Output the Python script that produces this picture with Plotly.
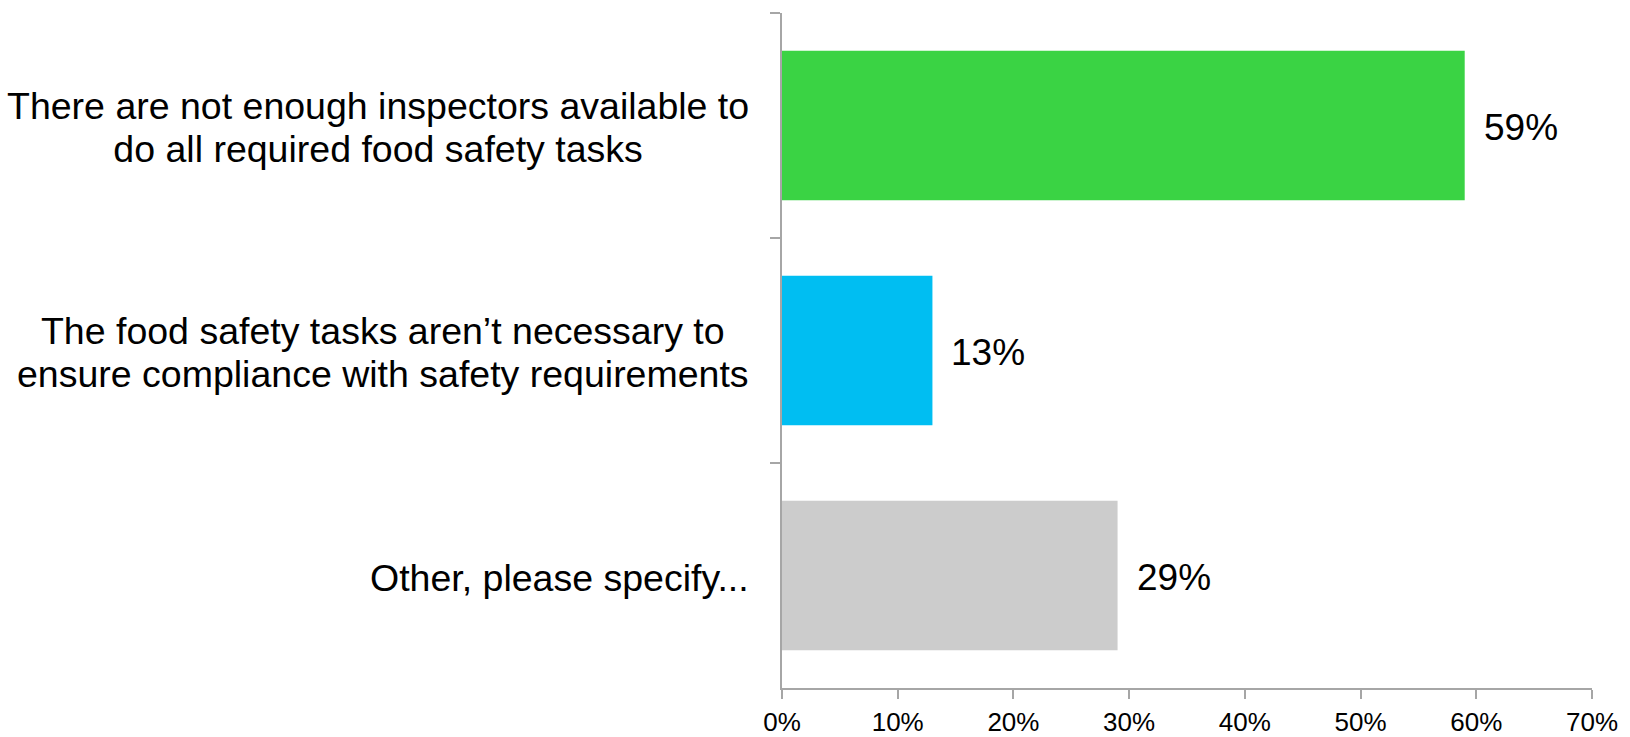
import plotly.graph_objects as go

# Survey responses: reasons food safety tasks go undone
categories = [
    "There are not enough inspectors available to<br>do all required food safety tasks",
    "The food safety tasks aren’t necessary to<br>ensure compliance with safety requirements",
    "Other, please specify...",
]
values = [59, 13, 29]
bar_colors = ["#3AD344", "#00BEF2", "#CCCCCC"]
x_tick_vals = [0, 10, 20, 30, 40, 50, 60, 70]
x_tick_text = ["0%", "10%", "20%", "30%", "40%", "50%", "60%", "70%"]

FONT = "Liberation Sans, Arial, sans-serif"
AXIS_COLOR = "#A6A6A6"

fig = go.Figure(
    go.Bar(
        x=values,
        y=categories,
        orientation="h",
        marker=dict(color=bar_colors, line=dict(width=0)),
        hoverinfo="skip",
    )
)

# value labels to the right of each bar
for cat, val in zip(categories, values):
    fig.add_annotation(
        x=val, y=cat, xref="x", yref="y",
        text=f"{val}%", showarrow=False,
        xanchor="left", yanchor="middle", xshift=17, yshift=-2,
        font=dict(family=FONT, size=37, color="#000000"),
    )

# category labels, each line centred within its block; the outer font size
# sets the line spacing, the inner span sets the glyph size
SPAN = '<span style="font-size:37.5px">'
for cat in categories:
    fig.add_annotation(
        x=0, y=cat, xref="paper", yref="y",
        text=SPAN + cat.replace("<br>", "</span><br>" + SPAN) + "</span>",
        showarrow=False, align="center",
        xanchor="right", yanchor="middle", xshift=-31, yshift=-2,
        font=dict(family=FONT, size=33, color="#000000"),
    )

fig.update_layout(
    width=1630, height=737,
    margin=dict(l=782, r=38, t=13, b=49, autoexpand=False),
    paper_bgcolor="white", plot_bgcolor="white",
    bargap=0.335,
    showlegend=False,
    font=dict(family=FONT, color="#000000"),
)

fig.update_xaxes(
    range=[0, 70],
    tickvals=x_tick_vals, ticktext=x_tick_text,
    showgrid=False, zeroline=False,
    showline=True, linecolor=AXIS_COLOR, linewidth=2,
    ticks="outside", ticklen=9, tickwidth=2, tickcolor=AXIS_COLOR,
    ticklabelstandoff=1,
    tickfont=dict(family=FONT, size=26, color="#000000"),
    automargin=False,
    fixedrange=True,
)

fig.update_yaxes(
    categoryorder="array", categoryarray=categories,
    autorange="reversed",
    showticklabels=False,
    showgrid=False, zeroline=False,
    showline=True, linecolor=AXIS_COLOR, linewidth=2,
    ticks="outside", tickson="boundaries", ticklen=10, tickwidth=2,
    tickcolor=AXIS_COLOR,
    automargin=False,
    fixedrange=True,
)

fig.write_html("out.html", config={"displayModeBar": False})
